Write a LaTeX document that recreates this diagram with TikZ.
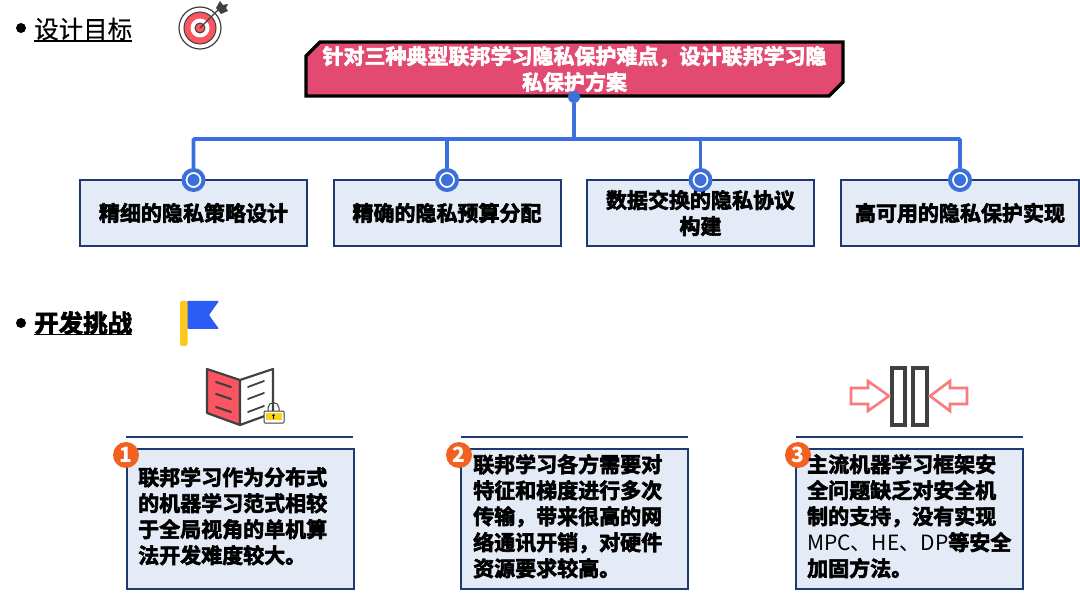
\documentclass[tikz,border=0pt]{standalone}
\usepackage{fontspec}
\usepackage{xcolor}
\usetikzlibrary{arrows.meta,positioning,shapes.misc,calc}
\setmainfont{Noto Sans CJK SC}
\newfontfamily\cjkmedium[FakeBold=0.4]{Noto Sans CJK SC}
\newfontfamily\cjkheavy[FakeBold=3]{Noto Sans CJK SC Bold}
\definecolor{titlered}{HTML}{E34A72}
\definecolor{linkblue}{HTML}{3B6FDB}
\definecolor{boxfill}{HTML}{E4EBF7}
\definecolor{boxline}{HTML}{1F3A73}
\definecolor{numorange}{HTML}{F26122}
\definecolor{iconred}{HTML}{FA5560}
\definecolor{icondark}{HTML}{404040}
\definecolor{pinkred}{HTML}{F97C78}
\definecolor{flagblue}{HTML}{2B5CF6}
\definecolor{flagyellow}{HTML}{FCC81E}
\begin{document}
\begin{tikzpicture}[
    x=1pt, y=-1pt,
    head/.style={inner sep=0pt, anchor=west, font=\cjkmedium\fontsize{24.5}{26}\selectfont},
    bullet/.style={circle, fill=black, inner sep=0pt, minimum size=10pt},
    goal/.style={chamfered rectangle, chamfered rectangle corners={north west, south east},
                 chamfered rectangle xsep=7pt, chamfered rectangle ysep=7pt,
                 draw=black, line width=3.4pt, fill=titlered, text=white,
                 inner xsep=0pt, inner ysep=-3pt, minimum width=537pt, minimum height=49pt, align=center,
                 font=\cjkheavy\fontsize{21}{26}\selectfont},
    aim/.style={draw=boxline, line width=2pt, fill=boxfill, inner sep=0pt,
                minimum height=66pt, align=center,
                font=\cjkheavy\fontsize{21}{26}\selectfont},
    card/.style={draw=boxline, line width=2pt, fill=boxfill, inner sep=0pt,
                 minimum width=227pt, minimum height=140pt},
    cardtext/.style={inner sep=0pt, anchor=north west, align=left,
                 font=\cjkheavy\fontsize{21}{26}\selectfont},
    num/.style={circle, fill=numorange, text=white, inner sep=0pt, minimum size=26pt,
                font=\bfseries\fontsize{21}{21}\selectfont},
    lnk/.style={draw=linkblue, line width=3.6pt},
    dot/.style={circle, fill=linkblue, inner sep=0pt, minimum size=12pt},
    ring/.style={circle, draw=linkblue, line width=4pt, fill=white, inner sep=0pt, minimum size=20pt},
    rule/.style={draw=boxline, line width=1.8pt},
    icon/.style={draw=icondark, line width=1.8pt, line join=round, line cap=round}
  ]
  \useasboundingbox (0,0) rectangle (1080,596);
  %% Section heads
  \node[bullet] (b1) at (21,28) {};
  \node[head] (h1) at (34,29) {设计目标};
  \draw[line width=1.7pt] (34,41) -- (132,41);
  \node[bullet] (b2) at (21,323) {};
  \node[head, font=\cjkheavy\fontsize{24.5}{26}\selectfont] (h2) at (34,323) {开发挑战};
  \draw[line width=1.8pt] (34,334.5) -- (132,334.5);
  %% Target icon
  \draw[icon, line width=1.2pt] (200,28) circle (21);
  \draw[fill=iconred, draw=icondark, line width=1pt] (200,28) circle (16);
  \draw[fill=white, draw=none] (200,28) circle (9.5);
  \draw[fill=iconred, draw=icondark, line width=1pt] (200,28) circle (5);
  \draw[icon, line width=1.2pt] (200,28) -- (219,9);
  \fill[icondark] (216,8) -- (220,1) -- (223,5) -- (228,4) -- (226,8) -- (228,11) -- (221,14) -- cycle;
  %% Goal box and branches
  \node[goal] (goal) at (574.5,69) {针对三种典型联邦学习隐私保护难点，设计联邦学习隐\\私保护方案};
  \node[aim, minimum width=227pt] (a1) at (193.5,213) {精细的隐私策略设计};
  \node[aim, minimum width=227pt] (a2) at (447,213) {精确的隐私预算分配};
  \node[aim, minimum width=227pt] (a3) at (700.5,213) {数据交换的隐私协议\\构建};
  \node[aim, minimum width=238pt] (a4) at (960,213) {高可用的隐私保护实现};
  \coordinate (fork) at (574,139);
  \node[dot] (d0) at (574,97) {};
  \draw[lnk] (d0) -- (fork);
  \node[ring] (r1) at (193.5,180) {};
  \node[ring] (r2) at (447,180) {};
  \node[ring] (r3) at (700.5,180) {};
  \node[ring] (r4) at (960,180) {};
  \draw[lnk, rounded corners=1pt] (r1) |- (fork);
  \draw[lnk] (r2) -- (r2 |- fork);
  \draw[lnk] (r3) -- (r3 |- fork);
  \draw[lnk, rounded corners=1pt] (r4) |- (fork);
  \node[dot] at (r1) {};
  \node[dot] at (r2) {};
  \node[dot] at (r3) {};
  \node[dot] at (r4) {};
  %% Flag icon
  \fill[flagblue, rounded corners=1pt] (187,301) -- (219,301) -- (209,315) -- (219,329) -- (187,329) -- cycle;
  \fill[flagyellow, rounded corners=2pt] (180,301) rectangle (187.5,346);
  %% Book icon
  \draw[icon, fill=iconred, line width=2.2pt] (207,369) -- (240,380) -- (240,425) -- (207,413) -- cycle;
  \draw[icon, fill=white, line width=2.2pt] (240,380) -- (273,369) -- (273,413) -- (240,425) -- cycle;
  \foreach \yy in {385,397,410} {
    \draw[icon, line width=2.2pt] (216,\yy-3) -- (231,\yy+2);
    \draw[icon, line width=1.8pt] (248,\yy+2) -- (264,\yy-4);
  }
  \draw[draw=icondark, line width=1pt] (268,411) -- (268,408) arc[start angle=180, end angle=360, radius=5.5] -- (279,411);
  \draw[draw=icondark, fill=white, line width=1pt, rounded corners=1pt] (264,411) rectangle (284,423);
  \fill[flagyellow!80!yellow] (266,413) rectangle (282,420);
  \fill[black] (273.5,415.5) circle (1.3);
  \draw[black, line width=0.8pt] (273.5,415.5) -- (273.5,419);
  %% Clamp icon
  \draw[icon, line cap=butt, line join=miter, line width=3.2pt] (892,368) rectangle (905,425);
  \draw[icon, line cap=butt, line join=miter, line width=3.2pt] (913,368) rectangle (927,425);
  \draw[draw=pinkred, line width=2.6pt, fill=white] (851,388) -- (868,388) -- (868,381) -- (889,396) -- (868,411) -- (868,404) -- (851,404) -- cycle;
  \draw[draw=pinkred, line width=2.6pt, fill=white] (967,388) -- (950,388) -- (950,381) -- (930,396) -- (950,411) -- (950,404) -- (967,404) -- cycle;
  %% Challenge cards
  \draw[rule] (126,437) -- (353,437);
  \draw[rule] (461,437) -- (688,437);
  \draw[rule] (796,437) -- (1023,437);
  \node[card] (c1) at (240.5,519) {};
  \node[card] (c2) at (574.5,519) {};
  \node[card] (c3) at (909.5,519) {};
  \node[num] (n1) at (126,455) {1};
  \node[num] (n2) at (459,455) {2};
  \node[num] (n3) at (798,455) {3};
  \node[cardtext] (t1) at (138,467) {联邦学习作为分布式\\的机器学习范式相较\\于全局视角的单机算\\法开发难度较大。};
  \node[cardtext] (t2) at (473,454) {联邦学习各方需要对\\特征和梯度进行多次\\传输，带来很高的网\\络通讯开销，对硬件\\资源要求较高。};
  \node[cardtext] (t3) at (807,454) {主流机器学习框架安\\全问题缺乏对安全机\\制的支持，没有实现\\{\normalfont MPC、HE、DP}等安全\\加固方法。};
\end{tikzpicture}
\end{document}
